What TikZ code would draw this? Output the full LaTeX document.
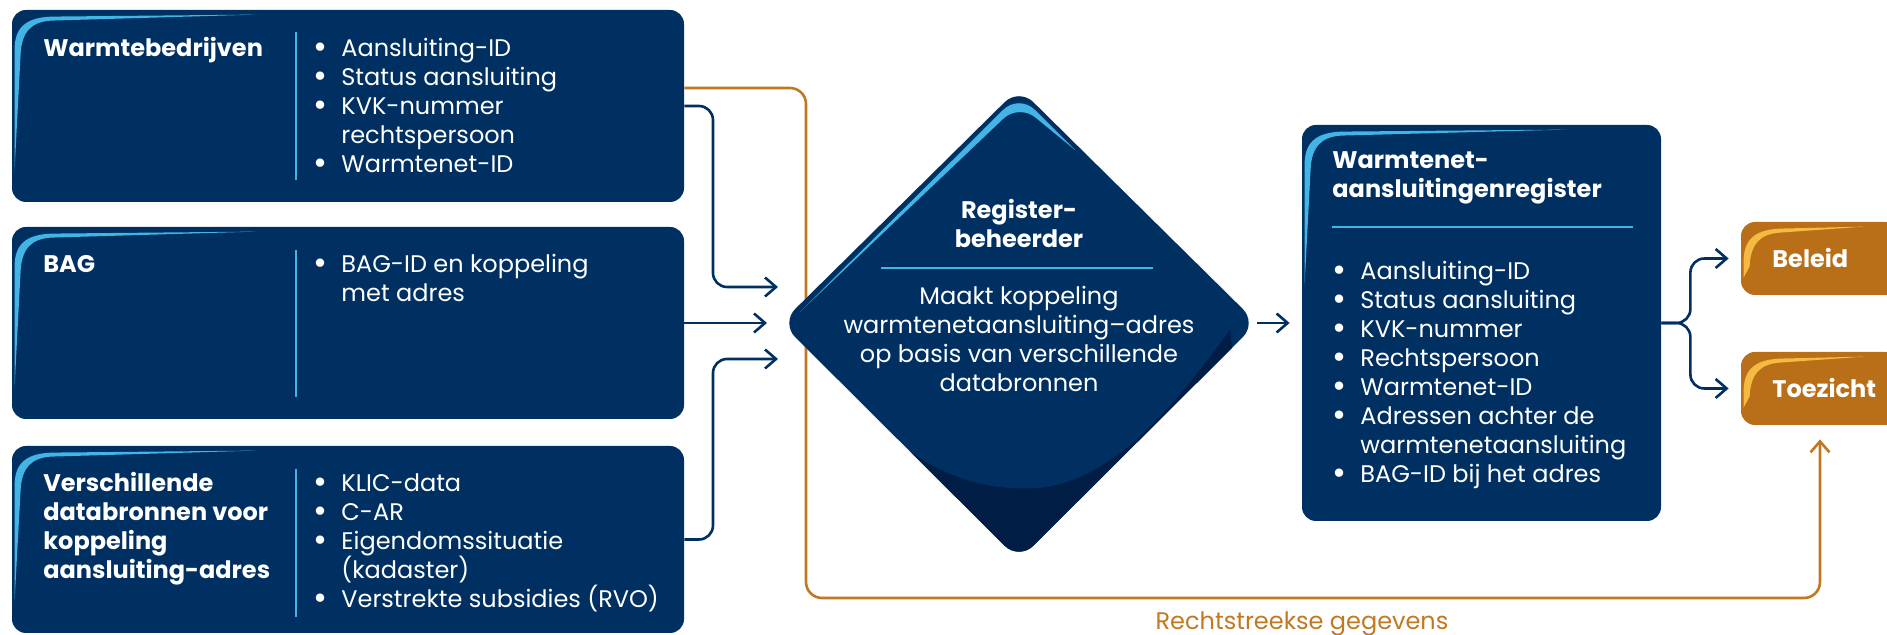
\documentclass[tikz,border=0pt]{standalone}
\usepackage{fontspec}
\setmainfont{Poppins}
\usetikzlibrary{arrows.meta,calc}

\definecolor{navy}{RGB}{0,48,97}
\definecolor{navydark}{RGB}{0,29,70}
\definecolor{sky}{RGB}{66,180,230}
\definecolor{ochre}{RGB}{185,110,24}
\definecolor{ochreline}{RGB}{194,120,32}
\definecolor{ochrelight}{RGB}{245,186,64}

\newcommand\blt{\makebox[14pt][l]{\smash{\raisebox{-0.9pt}{\fontsize{17}{14.5}\selectfont\textbullet}}}}
\newcommand\bsp{\makebox[14pt][l]{}}

\tikzset{
  srcbox/.style={fill=navy,rounded corners=7pt,inner sep=0pt},
  tagbox/.style={fill=ochre,rounded corners=7pt,inner sep=0pt},
  head/.style={text=white,font=\bfseries\fontsize{12}{14.5}\selectfont,inner sep=0pt,align=left,anchor=base west},
  lst/.style={text=white,font=\fontsize{12}{14.5}\selectfont,inner sep=0pt,align=left,anchor=base west},
  sepline/.style={sky,line width=1.2pt},
  feed/.style={navy,line width=1.3pt,rounded corners=7pt,-{Straight Barb[length=5.5pt,width=9.5pt]}},
  direct/.style={ochreline,line width=1.3pt,rounded corners=8pt,-{Straight Barb[length=5.5pt,width=9.5pt]}},
  pics/gleam/.style n args={3}{code={
    \fill[#3] (3,#2) -- (3,40) .. controls (3,18) and (14,8) .. (40,7) -- (#1,5) -- (40,11) .. controls (20,12) and (10,22) .. (9,45) -- cycle;
  }},
}

\begin{document}
\begin{tikzpicture}[x=0.5pt,y=0.5pt,yscale=-1]
    \useasboundingbox (0,0) rectangle (1887,635);

    % Rounded Rect: sources
    \node[srcbox,minimum width=336pt,minimum height=96pt] (wb) at (348,106) {};
    \node[srcbox,minimum width=336pt,minimum height=96pt] (bag) at (348,323) {};
    \node[srcbox,minimum width=336pt,minimum height=93.5pt] (vb) at (348,539.5) {};
    % Rounded Rect: register
    \node[srcbox,minimum width=179.5pt,minimum height=198pt] (reg) at (1481.5,323) {};
    % Rounded Rect: users
    \node[tagbox,minimum width=79pt,minimum height=36.5pt] (beleid) at (1820,258.5) {};
    \node[tagbox,minimum width=79pt,minimum height=36.5pt] (toez) at (1820,388.5) {};

    % Gleams
    \pic[transform shape] at (wb.north west) {gleam={245}{160}{sky}};
    \pic[transform shape] at (bag.north west) {gleam={245}{160}{sky}};
    \pic[transform shape] at (vb.north west) {gleam={245}{155}{sky}};
    \pic[transform shape] at (reg.north west) {gleam={265}{160}{sky}};
    \pic[transform shape] at (beleid.north west) {gleam={124}{56}{ochrelight}};
    \pic[transform shape] at (toez.north west) {gleam={124}{56}{ochrelight}};

    % Diamond corners
    \coordinate (beheerN) at (1019,88);
    \coordinate (beheerE) at (1257,323);
    \coordinate (beheerS) at (1019,560);
    \coordinate (beheerW) at (781,323);

    % Straight Lines
    \draw[direct,shorten >=7pt] ($(wb.east)+(0,-18)$) -| (806,598) -| (toez.south);
    \draw[feed] (wb.east) -| ($(beheerW)+(-68,-36)$) -- ($(beheerW)+(-3,-36)$);
    \draw[feed] (bag.east) -- ($(beheerW)+(-14,0)$);
    \draw[feed] (vb.east) -| ($(beheerW)+(-68,36)$) -- ($(beheerW)+(-3,36)$);
    \draw[feed,shorten >=6pt] (beheerE) -- (reg.west);
    \draw[feed,shorten >=6pt] (reg.east) -- ++(29,0) |- (beleid.west);
    \draw[feed,shorten >=6pt] (reg.east) -- ++(29,0) |- (toez.west);

    % Diamond
    \fill[navy,rounded corners=10pt] (beheerN) -- (beheerE) -- (beheerS) -- (beheerW) -- cycle;
    \begin{scope}
      \clip[rounded corners=10pt] (beheerN) -- (beheerE) -- (beheerS) -- (beheerW) -- cycle;
      \fill[navydark] (850,400) .. controls (920,470) and (970,492) .. (1040,488) .. controls (1100,480) and (1150,440) .. (1230,330) -- (1260,600) -- (850,600) -- cycle;
    \end{scope}
    \fill[sky] (800,312) -- (1003,110) .. controls (1012,101) and (1026,101) .. (1035,110) -- (1075,150) -- (1036,118) .. controls (1027,110) and (1012,110) .. (1003,119) -- cycle;

    % Separators
    \draw[sepline] (296,32) -- (296,180);
    \draw[sepline] (296,250) -- (296,397);
    \draw[sepline] (296,469) -- (296,617);
    \draw[sepline] (881,268) -- (1153,268);
    \draw[sepline] (1332,227) -- (1633,227);

    % Text Nodes (base = last line)
    \node[head] (wbhead) at (43,57) {Warmtebedrijven};
    \node[lst] (wblist) at (313,173) {\blt Aansluiting-ID\\ \blt Status aansluiting\\ \blt KVK-nummer\\ \bsp rechtspersoon\\ \blt Warmtenet-ID};
    \node[head] (baghead) at (43,273) {BAG};
    \node[lst] (baglist) at (313,302) {\blt BAG-ID en koppeling\\ \bsp met adres};
    \node[head] (vbhead) at (43,579) {Verschillende\\ databronnen voor\\ koppeling\\ aansluiting-adres};
    \node[lst] (vblist) at (313,608) {\blt KLIC-data\\ \blt C-AR\\ \blt Eigendomssituatie\\ \bsp (kadaster)\\ \blt Verstrekte subsidies (RVO)};
    \node[head,anchor=base,align=center] (beheerhead) at (1019,248) {Register-\\ beheerder};
    \node[lst,anchor=base,align=center] (beheertxt) at (1019,392) {Maakt koppeling\\ warmtenetaansluiting--adres\\ op basis van verschillende\\ databronnen};
    \node[head] (reghead) at (1332,198) {Warmtenet-\\ aansluitingenregister};
    \node[lst] (reglist) at (1332,483) {\blt Aansluiting-ID\\ \blt Status aansluiting\\ \blt KVK-nummer\\ \blt Rechtspersoon\\ \blt Warmtenet-ID\\ \blt Adressen achter de\\ \bsp warmtenetaansluiting\\ \blt BAG-ID bij het adres};
    \node[head] (beleidtxt) at (1772,268) {Beleid};
    \node[head] (toeztxt) at (1772,398) {Toezicht};
    \node[lst,anchor=base,text=ochreline] (rgtxt) at (1302,630) {Rechtstreekse gegevens};
\end{tikzpicture}
\end{document}
